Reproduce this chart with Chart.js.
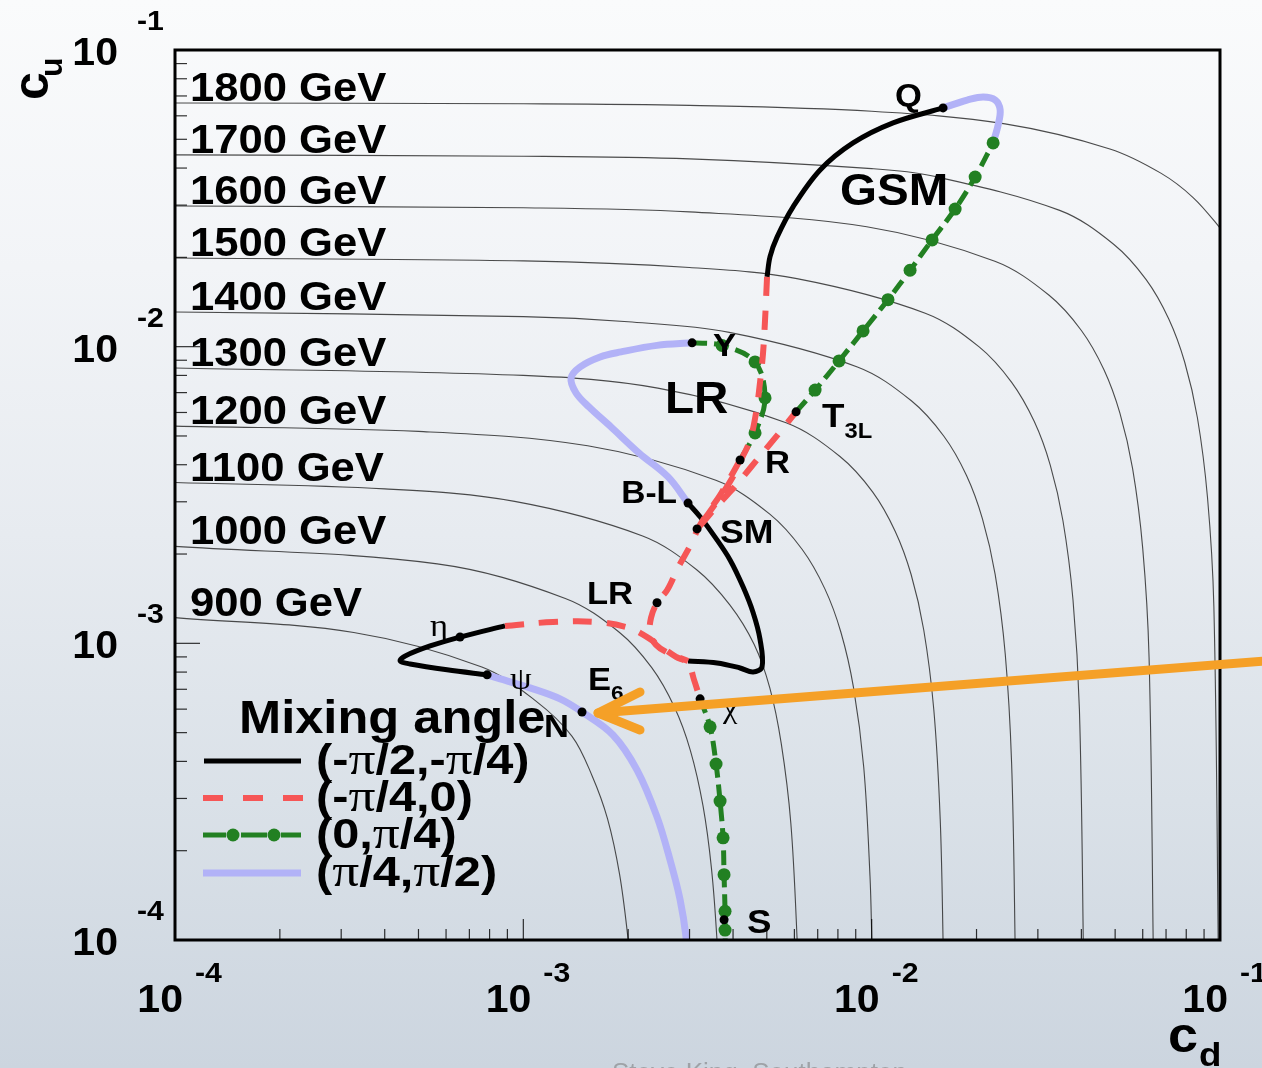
<!DOCTYPE html>
<html>
<head>
<meta charset="utf-8">
<title>Z' models in the (c_d, c_u) plane</title>
<script src="https://cdn.jsdelivr.net/npm/chart.js@4.4.1/dist/chart.umd.min.js"></script>
<style>
  html, body { margin:0; padding:0; width:1262px; height:1068px; overflow:hidden;
    background: linear-gradient(180deg, #fafbfc 0%, #f2f4f7 25%, #e7ebf0 50%, #dae1e8 75%, #ccd5df 100%); }
  canvas { display:block; }
</style>
</head>
<body>
<canvas id="chart" width="1262" height="1068"></canvas>
<script>
// ---------- axes: decades 10^-4 .. 10^-1 on both c_d and c_u ----------
const decadeExponents = [-4, -3, -2, -1];
const minorSteps = [2, 3, 4, 5, 6, 7, 8, 9];

// ---------- mass contours, points [c_d, c_u] along each line ----------
const contourMasses = [900, 1000, 1100, 1200, 1300, 1400, 1500, 1600, 1700, 1800];
const contour900  = [[1e-4,1.221e-3],[3.26e-4,1.088e-3],[7.6e-4,8.32e-4],[1.085e-3,6.4e-4],[1.38e-3,4.86e-4],[1.575e-3,3.58e-4],[1.745e-3,2.56e-4],[1.89e-3,1.66e-4],[2.0e-3,1.0e-4],[2.04e-3,7.7e-5]];
const contour1000 = [[1e-4,2.122e-3],[5.66e-4,1.853e-3],[1.32e-3,1.417e-3],[1.885e-3,1.09e-3],[2.337e-3,8.28e-4],[2.714e-3,6.1e-4],[3.016e-3,4.36e-4],[3.28e-3,2.83e-4],[3.468e-3,1.744e-4],[3.597e-3,1.0e-4],[3.65e-3,6.5e-5]];
const contour1100 = [[1e-4,3.484e-3],[4e-4,3.315e-3],[9.44e-4,3.009e-3],[2.2e-3,2.301e-3],[3.145e-3,1.77e-3],[3.92e-3,1.345e-3],[4.6e-3,9.91e-4],[5.1e-3,7.08e-4],[5.5e-3,4.6e-4],[5.86e-3,2.48e-4],[6.11e-3,1.0e-4],[6.17e-3,6.4e-5]];
const contour1200 = [[1e-4,5.397e-3],[5e-4,5.18e-3],[1.53e-3,4.633e-3],[3.57e-3,3.543e-3],[5.1e-3,2.725e-3],[6.32e-3,2.071e-3],[7.34e-3,1.526e-3],[8.16e-3,1.09e-3],[8.87e-3,7.09e-4],[9.49e-3,3.82e-4],[9.89e-3,1.64e-4],[1.001e-2,1.0e-4],[1.006e-2,7.6e-5]];
const contour1300 = [[1e-4,8.477e-3],[1e-3,8.0e-3],[2.433e-3,7.25e-3],[5.68e-3,5.54e-3],[8.11e-3,4.265e-3],[1.006e-2,3.241e-3],[1.168e-2,2.388e-3],[1.298e-2,1.706e-3],[1.411e-2,1.109e-3],[1.508e-2,5.97e-4],[1.573e-2,2.56e-4],[1.603e-2,1.0e-4],[1.61e-2,6.3e-5]];
const contour1400 = [[1e-4,1.309e-2],[1e-3,1.263e-2],[2e-3,1.213e-2],[3.9e-3,1.117e-2],[9.1e-3,8.54e-3],[1.3e-2,6.57e-3],[1.612e-2,4.99e-3],[1.872e-2,3.68e-3],[2.08e-2,2.628e-3],[2.262e-2,1.708e-3],[2.418e-2,9.2e-4],[2.522e-2,3.94e-4],[2.58e-2,1.0e-4],[2.59e-2,5e-5]];
const contour1500 = [[1e-4,1.99e-2],[1e-3,1.946e-2],[3e-3,1.848e-2],[6.1e-3,1.696e-2],[1.425e-2,1.297e-2],[2.035e-2,9.98e-3],[2.523e-2,7.58e-3],[2.93e-2,5.59e-3],[3.256e-2,3.99e-3],[3.541e-2,2.59e-3],[3.785e-2,1.397e-3],[3.948e-2,5.99e-4],[4.05e-2,1.0e-4],[4.06e-2,5e-5]];
const contour1600 = [[1e-4,2.98e-2],[1e-3,2.939e-2],[3e-3,2.846e-2],[9.68e-3,2.537e-2],[2.258e-2,1.94e-2],[3.225e-2,1.493e-2],[4.0e-2,1.134e-2],[4.644e-2,8.36e-3],[5.16e-2,5.97e-3],[5.612e-2,3.88e-3],[6.0e-2,2.09e-3],[6.257e-2,8.96e-4],[6.428e-2,1.0e-4],[6.44e-2,5e-5]];
const contour1700 = [[1e-4,4.43e-2],[1e-3,4.385e-2],[3e-3,4.296e-2],[1e-2,3.983e-2],[1.485e-2,3.766e-2],[3.465e-2,2.88e-2],[4.95e-2,2.215e-2],[6.138e-2,1.683e-2],[7.128e-2,1.24e-2],[7.92e-2,8.86e-3],[8.613e-2,5.76e-3],[9.207e-2,3.1e-3],[9.603e-2,1.329e-3],[9.88e-2,1.0e-4],[9.89e-2,5e-5]];
const contour1800 = [[1e-4,6.63e-2],[1e-3,6.589e-2],[3e-3,6.507e-2],[1e-2,6.218e-2],[2.415e-2,5.636e-2],[4.83e-2,4.64e-2],[6.762e-2,3.845e-2],[8.372e-2,3.182e-2],[9.98e-2,2.52e-2],[1.047e-1,2.32e-2]];
const contours = [contour900, contour1000, contour1100, contour1200, contour1300,
                  contour1400, contour1500, contour1600, contour1700, contour1800];

// ---------- benchmark models [c_d, c_u] ----------
const Q   = [1.603e-2, 6.38e-2];
const Y   = [3.051e-3, 1.03e-2];
const T3L = [6.067e-3, 6.03e-3];
const R   = [4.190e-3, 4.15e-3];
const BL  = [2.971e-3, 2.97e-3];
const SM  = [3.153e-3, 2.43e-3];
const LRp = [2.420e-3, 1.37e-3];
const ETA = [6.58e-4, 1.05e-3];
const PSI = [7.87e-4, 7.83e-4];
const CHI = [3.217e-3, 6.50e-4];
const Np  = [1.474e-3, 5.87e-4];
const Sp  = [3.769e-3, 1.17e-4];
const benchmarks = [Q, Y, T3L, R, BL, SM, LRp, ETA, PSI, CHI, Np, Sp];

// points where the mixing-angle ranges join
const gsmJoin = [5.008e-3, 1.72e-2];
const gsmTop  = [2.232e-2, 4.86e-2];
const lrJoin  = [2.971e-3, 8.72e-4];
const e6Join  = [8.86e-4, 1.145e-3];

// ---------- GSM family ----------
const gsmBlack = [Q,[1.152e-2,5.68e-2],[8.843e-3,4.86e-2],[7.111e-3,3.94e-2],[5.948e-3,2.96e-2],[5.350e-3,2.34e-2],[5.108e-3,2.01e-2],gsmJoin];
const gsmRed = [gsmJoin,[4.942e-3,1.23e-2],[4.877e-3,9.52e-3],[4.782e-3,7.60e-3],[4.657e-3,5.98e-3],[4.476e-3,4.85e-3],[4.217e-3,4.15e-3],[3.947e-3,3.55e-3],[3.671e-3,3.11e-3],[3.391e-3,2.73e-3],SM,[3.347e-3,2.63e-3],[3.575e-3,2.88e-3],[3.844e-3,3.16e-3],[4.134e-3,3.47e-3],[4.506e-3,3.93e-3],[4.975e-3,4.52e-3],[5.458e-3,5.16e-3],T3L];
const gsmGreen = [T3L,[6.880e-3,7.14e-3],[8.062e-3,8.95e-3],[9.447e-3,1.13e-2],[1.114e-2,1.44e-2],[1.289e-2,1.81e-2],[1.491e-2,2.29e-2],[1.736e-2,2.91e-2],[1.982e-2,3.73e-2],gsmTop];
const gsmLavender = [gsmTop,[2.307e-2,5.59e-2],[2.338e-2,6.28e-2],[2.262e-2,6.78e-2],[2.089e-2,6.94e-2],[1.879e-2,6.78e-2],[1.736e-2,6.58e-2],Q];

// ---------- LR family ----------
const lrLavender = [BL,[2.603e-3,3.64e-3],[2.149e-3,4.38e-3],[1.786e-3,5.36e-3],[1.544e-3,6.26e-3],[1.417e-3,6.98e-3],[1.371e-3,7.84e-3],[1.455e-3,8.54e-3],[1.661e-3,9.23e-3],[1.908e-3,9.60e-3],[2.420e-3,1.01e-2],Y];
const lrGreen = [Y,[3.720e-3,1.01e-2],[4.626e-3,8.88e-3],[4.942e-3,6.72e-3],[4.626e-3,5.12e-3],R];
const lrRed = [R,[3.922e-3,3.61e-3],[3.671e-3,3.16e-3],[3.436e-3,2.82e-3],[3.217e-3,2.51e-3],[3.010e-3,2.13e-3],[2.781e-3,1.80e-3],[2.586e-3,1.51e-3],LRp,[2.326e-3,1.22e-3],[2.311e-3,1.08e-3],[2.404e-3,9.88e-4],[2.603e-3,9.28e-4],lrJoin];
const lrBlack = [lrJoin,[3.599e-3,8.59e-4],[4.190e-3,8.26e-4],[4.566e-3,8.01e-4],[4.845e-3,8.33e-4],[4.782e-3,1.03e-3],[4.566e-3,1.27e-3],[4.274e-3,1.55e-3],[3.922e-3,1.91e-3],[3.552e-3,2.28e-3],[3.217e-3,2.67e-3],BL];

// ---------- E6 family ----------
const e6Green = [CHI,[3.436e-3,5.23e-4],[3.575e-3,3.92e-4],[3.671e-3,2.94e-4],[3.745e-3,2.21e-4],[3.769e-3,1.66e-4],[3.794e-3,1.25e-4],[3.794e-3,1.08e-4],[3.819e-3,7.34e-5]];
const e6Lavender = [PSI,[8.58e-4,7.59e-4],[1.045e-3,7.08e-4],[1.275e-3,6.50e-4],Np,[1.809e-3,4.91e-4],[2.121e-3,3.74e-4],[2.420e-3,2.60e-4],[2.638e-3,1.86e-4],[2.818e-3,1.37e-4],[2.932e-3,1.02e-4],[2.932e-3,8.91e-5]];
const e6Black = [PSI,[6.04e-4,8.14e-4],[4.73e-4,8.52e-4],[4.43e-4,8.72e-4],[4.58e-4,9.07e-4],[5.40e-4,9.80e-4],ETA,e6Join];
const e6Red = [e6Join,[1.217e-3,1.18e-3],[1.628e-3,1.18e-3],[1.998e-3,1.13e-3],[2.236e-3,1.06e-3],[2.469e-3,9.80e-4],[2.744e-3,9.00e-4],[2.971e-3,8.59e-4],[3.091e-3,7.53e-4],CHI];

// ---------- legend texts ----------
const legendTitle = 'Mixing angle';
const legendRows = [
  ['(-', 'π', '/2,-', 'π', '/4)'],
  ['(-', 'π', '/4,0)'],
  ['(0,', 'π', '/4)'],
  ['(', 'π', '/4,', 'π', '/2)']
];

// ---------- styles ----------
const SANS = s => `bold ${s}px "Liberation Sans", Arial, sans-serif`;
const SERIF = s => `${s}px "Liberation Serif", "DejaVu Serif", serif`;
const COL = { black:'#000000', red:'#f65656', green:'#228022', lavender:'#b2b2f7', contour:'rgba(45,45,45,0.85)', orange:'#f5a027' };
const SX = 1.08;   // horizontal text stretch

const toXY = pts => pts.map(p => ({ x: p[0], y: p[1], mk: !benchmarks.includes(p) }));

function curve(pts, kind) {
  const base = { data: toXY(pts), showLine: true, tension: 0.35, clip: 0, pointHoverRadius: 0 };
  if (kind === 'black') return { ...base, borderColor: COL.black, borderWidth: 5, pointRadius: 0 };
  if (kind === 'red') return { ...base, borderColor: COL.red, borderWidth: 6, borderDash: [19, 15], pointRadius: 0 };
  if (kind === 'lavender') return { ...base, borderColor: COL.lavender, borderWidth: 7, pointRadius: 0 };
  return { ...base, borderColor: COL.green, borderWidth: 5, borderDash: [15, 7],
           pointRadius: c => (c.raw && c.raw.mk) ? 6.5 : 0,
           pointBackgroundColor: COL.green, pointBorderWidth: 0 };
}

const datasets = [
  { data: toXY(benchmarks), showLine: false, pointRadius: 4.5, pointBackgroundColor: '#000', pointBorderWidth: 0, clip: 0 },
  curve(gsmRed, 'red'), curve(lrRed, 'red'), curve(e6Red, 'red'),
  curve(gsmGreen, 'green'), curve(lrGreen, 'green'), curve(e6Green, 'green'),
  curve(gsmBlack, 'black'), curve(lrBlack, 'black'), curve(e6Black, 'black'),
  curve(gsmLavender, 'lavender'), curve(lrLavender, 'lavender'), curve(e6Lavender, 'lavender'),
  ...contours.map(c => ({ data: toXY(c), showLine: true, tension: 0.35, clip: 0,
                          borderColor: COL.contour, borderWidth: 1.1, pointRadius: 0 }))
];

// ---------- text helpers ----------
function txt(ctx, s, x, y, font, align = 'left', sx = SX) {
  ctx.save();
  ctx.font = font; ctx.fillStyle = '#000'; ctx.textBaseline = 'alphabetic'; ctx.textAlign = 'left';
  const w = ctx.measureText(s).width * sx;
  const x0 = align === 'right' ? x - w : align === 'center' ? x - w / 2 : x;
  ctx.translate(x0, y); ctx.scale(sx, 1); ctx.fillText(s, 0, 0);
  ctx.restore();
  return w;
}
function runsWidth(ctx, parts, sx = SX) {
  let w = 0;
  for (const p of parts) { ctx.font = p.f; w += ctx.measureText(p.t).width * sx; }
  return w;
}
function runs(ctx, parts, x, y, align = 'left', sx = SX) {
  let cx = align === 'right' ? x - runsWidth(ctx, parts, sx) : x;
  for (const p of parts) cx += txt(ctx, p.t, cx, y + (p.dy || 0), p.f, 'left', sx);
}

// labels beside the benchmark dots (pixel offsets from the dot)
const pointLabels = [
  { at: Q,   dx: -48, dy: -2,  parts: [{ t: 'Q', f: SANS(32) }] },
  { at: Y,   dx: 21,  dy: 13,  parts: [{ t: 'Y', f: SANS(32) }] },
  { at: T3L, dx: 26,  dy: 15,  parts: [{ t: 'T', f: SANS(34) }, { t: '3L', f: SANS(22), dy: 11 }] },
  { at: R,   dx: 25,  dy: 13,  parts: [{ t: 'R', f: SANS(32) }] },
  { at: BL,  dx: -11, dy: 0,   align: 'right', parts: [{ t: 'B-L', f: SANS(31) }] },
  { at: SM,  dx: 23,  dy: 14,  parts: [{ t: 'SM', f: SANS(33) }] },
  { at: LRp, dx: -24, dy: 1,   align: 'right', parts: [{ t: 'LR', f: SANS(32) }] },
  { at: ETA, dx: -12, dy: -1,  align: 'right', parts: [{ t: 'η', f: SERIF(32) }] },
  { at: PSI, dx: 23,  dy: 14,  parts: [{ t: 'ψ', f: SERIF(32) }] },
  { at: CHI, dx: 23,  dy: 19,  parts: [{ t: 'χ', f: SERIF(30) }] },
  { at: Np,  dx: -38, dy: 25,  parts: [{ t: 'N', f: SANS(32) }] },
  { at: Sp,  dx: 23,  dy: 13,  parts: [{ t: 'S', f: SANS(34) }] },
  { at: Q,   dx: -103, dy: 97, parts: [{ t: 'GSM', f: SANS(44) }] },
  { at: Y,   dx: -27, dy: 70,  parts: [{ t: 'LR', f: SANS(44) }] },
  { at: Np,  dx: 6,   dy: -22, parts: [{ t: 'E', f: SANS(32) }, { t: '6', f: SANS(21), dy: 10 }] }
];

const decor = {
  id: 'decor',
  afterDatasetsDraw(chart) {
    const { ctx, chartArea: a, scales: { x, y } } = chart;
    const px = p => ({ x: x.getPixelForValue(p[0]), y: y.getPixelForValue(p[1]) });
    ctx.save();

    // contour mass labels
    contours.forEach((c, i) => {
      txt(ctx, contourMasses[i] + ' GeV', a.left + 15, y.getPixelForValue(c[0][1]) - 2, SANS(40), 'left', 1.09);
    });

    // frame
    ctx.strokeStyle = '#000'; ctx.lineWidth = 3;
    ctx.strokeRect(a.left, a.top, a.right - a.left, a.bottom - a.top);

    // ticks (inside the frame, left and bottom)
    ctx.lineWidth = 1.2; ctx.strokeStyle = 'rgba(0,0,0,0.8)';
    const seg = (x1, y1, x2, y2) => { ctx.beginPath(); ctx.moveTo(x1, y1); ctx.lineTo(x2, y2); ctx.stroke(); };
    decadeExponents.forEach(e => {
      const v = Math.pow(10, e);
      const tx = x.getPixelForValue(v), ty = y.getPixelForValue(v);
      seg(tx, a.bottom, tx, a.bottom - 21);
      seg(a.left, ty, a.left + 25, ty);
      if (e < -1) minorSteps.forEach(k => {
        const mx = x.getPixelForValue(k * v), my = y.getPixelForValue(k * v);
        seg(mx, a.bottom, mx, a.bottom - 11);
        seg(a.left, my, a.left + 12, my);
      });
    });

    // tick labels 10^n
    decadeExponents.forEach(e => {
      const v = Math.pow(10, e);
      const tx = x.getPixelForValue(v), ty = y.getPixelForValue(v);
      txt(ctx, '10', tx + 8, a.bottom + 72, SANS(38), 'right');
      txt(ctx, String(e), tx + 20, a.bottom + 42, SANS(28));
      txt(ctx, '10', a.left - 57, ty + 15, SANS(38), 'right');
      txt(ctx, String(e), a.left - 38, ty - 20, SANS(28));
    });

    // axis titles
    ctx.save();
    ctx.translate(48, 100); ctx.rotate(-Math.PI / 2);
    txt(ctx, 'c', 0, 0, SANS(50), 'left', 1);
    txt(ctx, 'u', 23, 14, SANS(32), 'left', 1);
    ctx.restore();
    txt(ctx, 'c', 1168, 1052, SANS(50));
    txt(ctx, 'd', 1199, 1066, SANS(34));

    // benchmark labels
    pointLabels.forEach(l => {
      const p = px(l.at);
      runs(ctx, l.parts, p.x + l.dx, p.y + l.dy, l.align || 'left');
    });

    // legend
    txt(ctx, legendTitle, 239, 733, SANS(46), 'left', 1.1);
    const rowY = [761, 798, 835, 873];
    ctx.lineCap = 'butt';
    // black
    ctx.setLineDash([]); ctx.strokeStyle = COL.black; ctx.lineWidth = 5; seg(204, rowY[0], 301, rowY[0]);
    // red dashed
    ctx.strokeStyle = COL.red; ctx.lineWidth = 6; ctx.setLineDash([20, 20]); seg(203, rowY[1], 303, rowY[1]);
    // green dash-dot
    ctx.setLineDash([]); ctx.strokeStyle = COL.green; ctx.lineWidth = 5;
    seg(203, rowY[2], 226, rowY[2]); seg(241, rowY[2], 267, rowY[2]); seg(281, rowY[2], 301, rowY[2]);
    ctx.fillStyle = COL.green;
    [233, 274].forEach(cx => { ctx.beginPath(); ctx.arc(cx, rowY[2], 6.5, 0, Math.PI * 2); ctx.fill(); });
    // lavender
    ctx.strokeStyle = COL.lavender; ctx.lineWidth = 7; seg(203, rowY[3], 301, rowY[3]);
    legendRows.forEach((row, i) => {
      const parts = row.map(t => ({ t, f: t === 'π' ? SERIF(46) : SANS(42) }));
      runs(ctx, parts, 316, rowY[i] + 13, 'left', 1.16);
    });

    // footer
    ctx.font = '26px "Liberation Sans", Arial, sans-serif';
    ctx.fillStyle = 'rgba(120,120,120,0.55)'; ctx.textBaseline = 'top';
    ctx.fillText('Steve King, Southampton', 612, 1061);
    ctx.restore();
  },
  afterDraw(chart) {
    const { ctx, scales: { x, y } } = chart;
    const tip = { x: x.getPixelForValue(Np[0]) + 16, y: y.getPixelForValue(Np[1]) + 1 };
    ctx.save();
    ctx.strokeStyle = COL.orange; ctx.lineWidth = 9; ctx.lineCap = 'round'; ctx.lineJoin = 'round';
    ctx.beginPath(); ctx.moveTo(chart.width + 5, tip.y - 52); ctx.lineTo(tip.x, tip.y); ctx.stroke();
    ctx.beginPath(); ctx.moveTo(tip.x + 42, tip.y - 21); ctx.lineTo(tip.x, tip.y); ctx.lineTo(tip.x + 42, tip.y + 17); ctx.stroke();
    ctx.restore();
  }
};

const hidden = { ticks: { display: false }, grid: { display: false, drawTicks: false }, border: { display: false }, title: { display: false } };

new Chart(document.getElementById('chart'), {
  type: 'scatter',
  data: { datasets },
  options: {
    responsive: false,
    animation: false,
    events: [],
    layout: { padding: { left: 175, top: 50, right: 42, bottom: 128 } },
    plugins: { legend: { display: false }, tooltip: { enabled: false } },
    scales: {
      x: { type: 'logarithmic', min: 1e-4, max: 1e-1, ...hidden, afterFit: s => { s.height = 0; } },
      y: { type: 'logarithmic', min: 1e-4, max: 1e-1, ...hidden, afterFit: s => { s.width = 0; } }
    }
  },
  plugins: [decor]
});
</script>
</body>
</html>
